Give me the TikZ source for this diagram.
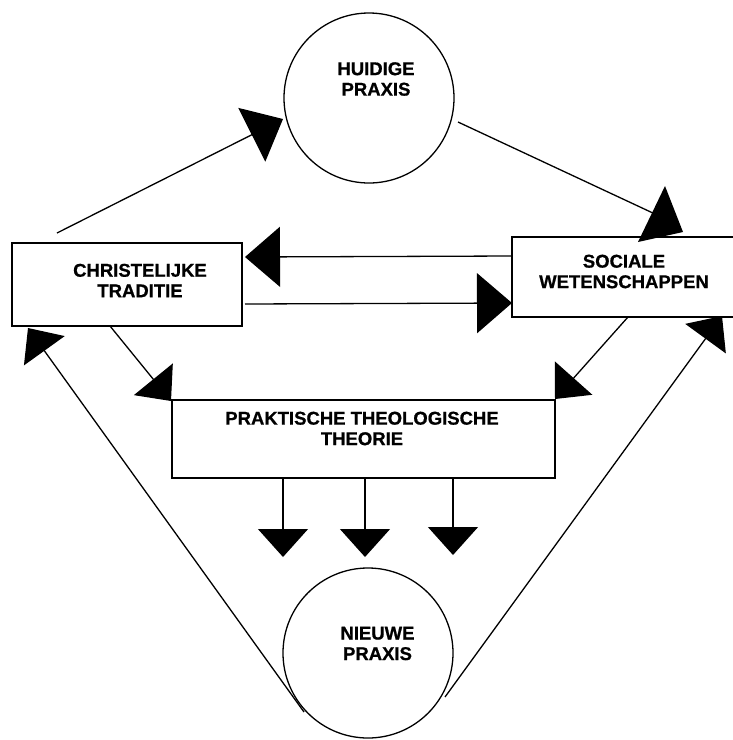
\documentclass[tikz,border=0pt]{standalone}
\usepackage{fontspec}
\setmainfont{Liberation Sans}
\newfontfamily\lblfont[BoldFeatures={FakeBold=0.8}]{Liberation Sans}
\usetikzlibrary{arrows.meta}
\begin{document}
\begin{tikzpicture}[x=1pt,y=-1pt,
  line width=1.3pt,
  bigtip/.style={-{Triangle[length=35pt,width=60pt]}},
  midtip/.style={-{Triangle[length=28pt,width=50pt]}},
  ring/.style={draw,circle,minimum size=170pt,inner sep=0pt},
  box/.style={draw,rectangle,inner sep=0pt,line width=1.5pt},
  lbl/.style={font=\lblfont\fontsize{18.5}{20.5}\selectfont\bfseries,align=center,inner sep=0pt}
]
\useasboundingbox (0,0) rectangle (733,740);

% shapes
\node[ring] (huidig) at (369,98) {};
\node[ring] (nieuw) at (368,653) {};
\node[box,minimum width=230pt,minimum height=83pt] (trad) at (127,284.5) {};
\node[box,minimum width=226pt,minimum height=80pt] (soc) at (625,277) {};
\node[box,minimum width=383pt,minimum height=78pt] (theo) at (363.5,439) {};

% texts
\node[lbl] (thuidig) at (376,79) {HUIDIGE\\PRAXIS};
\node[lbl] (ttrad) at (140,280.5) {CHRISTELIJKE\\TRADITIE};
\node[lbl] (tsoc) at (624,271.5) {SOCIALE\\WETENSCHAPPEN};
\node[lbl] (ttheo) at (362,428.5) {PRAKTISCHE THEOLOGISCHE\\THEORIE};
\node[lbl] (tnieuw) at (377.5,643.5) {NIEUWE\\PRAXIS};

% connector end points
\coordinate (a1s) at (57,233);
\coordinate (a1e) at (283,119);
\coordinate (a2s) at (458,122);
\coordinate (a2e) at (655,214);
\coordinate (a3s) at (512,256);
\coordinate (a3e) at (245,257);
\coordinate (a4s) at (245,304);
\coordinate (a4e) at (512,303);
\coordinate (a5s) at (110,326);
\coordinate (a5e) at (171,401);
\coordinate (a6s) at (628,317);
\coordinate (a6e) at (555,399);
\coordinate (d1s) at (283,478);
\coordinate (d1e) at (283,557);
\coordinate (d2s) at (365,478);
\coordinate (d2e) at (365,557);
\coordinate (d3s) at (453,478);
\coordinate (d3e) at (453,555);
\coordinate (l1s) at (304,712);
\coordinate (l1e) at (28,328);
\coordinate (r1s) at (445,697);
\coordinate (r1e) at (722,316);
\coordinate (w1) at (665,186);
\coordinate (w2) at (638,242);
\coordinate (w3) at (683,232);

% connectors
\draw[bigtip] (a1s) -- (a1e);
\draw (a2s) -- (a2e);
\fill (w1) -- (w2) -- (w3) -- cycle;
\draw[bigtip] (a3s) -- (a3e);
\draw[bigtip] (a4s) -- (a4e);
\draw[midtip] (a5s) -- (a5e);
\draw[midtip] (a6s) -- (a6e);
\draw[midtip] (d1s) -- (d1e);
\draw[midtip] (d2s) -- (d2e);
\draw[midtip] (d3s) -- (d3e);
\draw[midtip] (l1s) -- (l1e);
\draw[midtip] (r1s) -- (r1e);
\end{tikzpicture}
\end{document}
